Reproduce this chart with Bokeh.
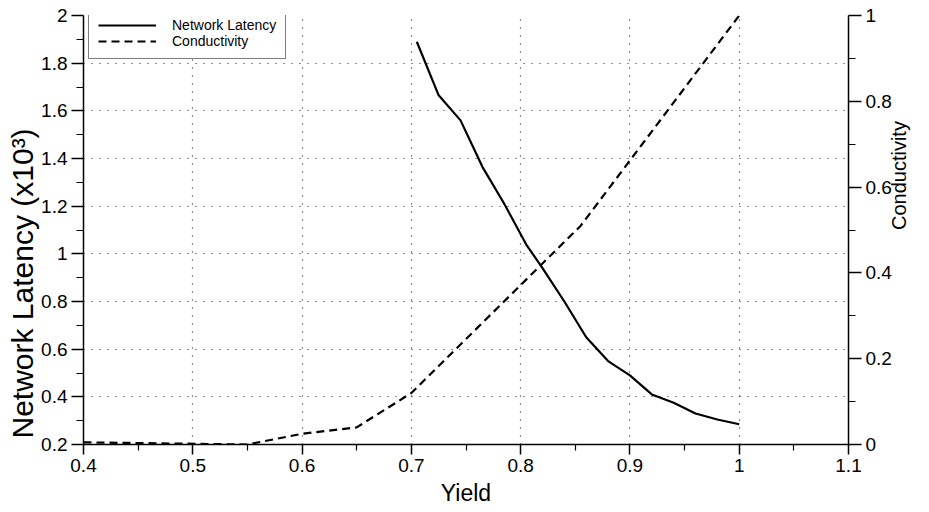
import math
from bokeh.plotting import figure
from bokeh.models import (Range1d, LinearAxis, FixedTicker, CustomJSTickFormatter,
                          Legend, LegendItem, Title)
from bokeh.embed import file_html
from bokeh.resources import INLINE

# ---- data ----
latency_x = [0.705, 0.725, 0.745, 0.765, 0.785, 0.805, 0.82, 0.84, 0.86, 0.88,
             0.90, 0.92, 0.94, 0.96, 0.98, 1.0]
latency_y = [1.89, 1.665, 1.56, 1.365, 1.21, 1.04, 0.94, 0.80, 0.65, 0.55,
             0.49, 0.41, 0.375, 0.33, 0.305, 0.285]
cond_x = [0.4, 0.55, 0.6, 0.65, 0.7, 0.855, 1.0]
cond_y = [0.005, 0.0, 0.025, 0.04, 0.12, 0.51, 1.0]

x_ticks = [0.4, 0.5, 0.6, 0.7, 0.8, 0.9, 1.0, 1.1]
x_minor = [0.45, 0.55, 0.65, 0.75, 0.85, 0.95, 1.05]
y_ticks = [0.2, 0.4, 0.6, 0.8, 1.0, 1.2, 1.4, 1.6, 1.8, 2.0]
y_minor = [0.3, 0.5, 0.7, 0.9, 1.1, 1.3, 1.5, 1.7, 1.9]
r_ticks = [0.0, 0.2, 0.4, 0.6, 0.8, 1.0]
r_minor = [0.1, 0.3, 0.5, 0.7, 0.9]

FONT = "Liberation Sans"
fmt = CustomJSTickFormatter(code="return String(Math.round(tick*100)/100);")

BL, BT = 83, 15
FW, FH = 765, 431
BR, BB = 77, 62
W, H = BL + FW + BR, BT + FH + BB

p = figure(width=W, height=H, output_backend="svg",
           toolbar_location=None, x_range=Range1d(0.4, 1.1), y_range=Range1d(0.2, 2.0),
           min_border_left=BL, min_border_right=BR, min_border_top=BT, min_border_bottom=BB)
p.extra_y_ranges = {"cond": Range1d(0.0, 1.0)}
p.outline_line_color = None
p.background_fill_color = "white"
p.border_fill_color = "white"

# axes
xa = p.xaxis[0]
ya = p.yaxis[0]
xa.ticker = FixedTicker(ticks=x_ticks, minor_ticks=x_minor)
ya.ticker = FixedTicker(ticks=y_ticks, minor_ticks=y_minor)
ra = LinearAxis(y_range_name="cond", ticker=FixedTicker(ticks=r_ticks, minor_ticks=r_minor))
p.add_layout(ra, "right")

xa.axis_label = "Yield"
ra.axis_label = "Conductivity"

for ax, to, mo in ((xa, 10, 6), (ya, 12, 7), (ra, 13, 7)):
    ax.formatter = fmt
    ax.axis_line_color = "black"
    ax.axis_line_width = 1.5
    ax.major_tick_line_color = "black"
    ax.major_tick_line_width = 1.5
    ax.minor_tick_line_color = "black"
    ax.minor_tick_line_width = 1.2
    ax.major_tick_in = 0
    ax.major_tick_out = to
    ax.minor_tick_in = 0
    ax.minor_tick_out = mo
    ax.major_label_text_font = FONT
    ax.major_label_text_font_size = "19px"
    ax.major_label_text_color = "black"
    ax.axis_label_text_font = FONT
    ax.axis_label_text_font_style = "normal"
    ax.axis_label_text_color = "black"
    ax.major_label_standoff = 4

xa.axis_label_text_font_size = "23px"
xa.axis_label_standoff = 5
ra.axis_label_text_font_size = "20px"
ra.axis_label_standoff = 4
ra.axis_label_orientation = math.pi / 2

# left axis title (as a side title so it can sit lower, like the reference)
ytitle = Title(text="Network Latency (x10\u00b3)", align="left", offset=6,
               text_font=FONT, text_font_size="30px", text_font_style="normal",
               text_color="black", standoff=0)
p.add_layout(ytitle, "left")

# grids
for g in (p.xgrid[0], p.ygrid[0]):
    g.grid_line_color = "#222222"
    g.grid_line_width = 1.2
    g.grid_line_dash = "1 7"
p.xgrid[0].ticker = FixedTicker(ticks=x_ticks)
p.ygrid[0].ticker = FixedTicker(ticks=y_ticks)

# lines
r1 = p.line(latency_x, latency_y, line_color="black", line_width=2.2)
r2 = p.line(cond_x, cond_y, y_range_name="cond", line_color="black", line_width=2.2,
            line_dash="8 5")

legend = Legend(items=[LegendItem(label="Network Latency", renderers=[r1]),
                       LegendItem(label="Conductivity", renderers=[r2])],
                location=(5, FH - 46), orientation="vertical")
legend.label_text_font = FONT
legend.label_text_font_size = "14px"
legend.label_text_color = "black"
legend.label_height = 14
legend.glyph_height = 14
legend.glyph_width = 58
legend.label_standoff = 16
legend.spacing = 0
legend.padding = 9
legend.margin = 0
legend.border_line_color = "black"
legend.border_line_width = 1.2
legend.background_fill_color = "white"
legend.background_fill_alpha = 1.0
p.add_layout(legend, "center")

open("out.html", "w").write(file_html(p, INLINE))
